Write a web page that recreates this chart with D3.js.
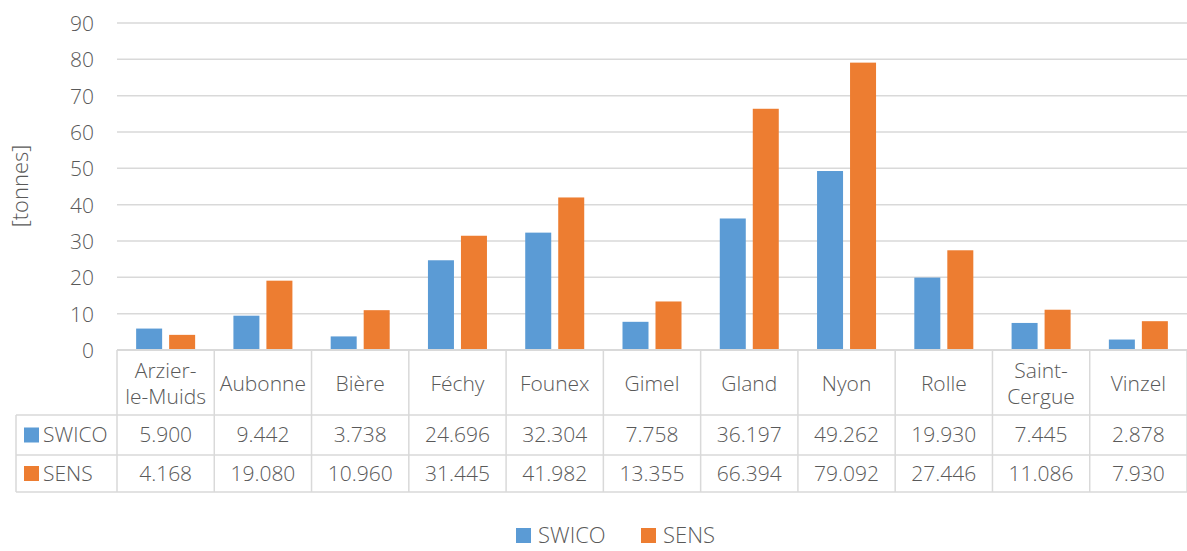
<!DOCTYPE html>
<html><head><meta charset="utf-8">
<script src="https://cdn.jsdelivr.net/npm/d3@7"></script>
<style>
html,body{margin:0;padding:0;background:#fff;}
svg text{font-family:"Open Sans",sans-serif;font-weight:300;fill:#595959;}
</style></head>
<body>
<svg id="chart" width="1187" height="551"></svg>
<script>
const categories = [["Arzier-","le-Muids"],["Aubonne"],["Bière"],["Féchy"],["Founex"],["Gimel"],["Gland"],["Nyon"],["Rolle"],["Saint-","Cergue"],["Vinzel"]];
const seriesNames = ["SWICO","SENS"];
const swico = [5.900,9.442,3.738,24.696,32.304,7.758,36.197,49.262,19.930,7.445,2.878];
const sens = [4.168,19.080,10.960,31.445,41.982,13.355,66.394,79.092,27.446,11.086,7.930];
const swicoLabels = ["5.900","9.442","3.738","24.696","32.304","7.758","36.197","49.262","19.930","7.445","2.878"];
const sensLabels = ["4.168","19.080","10.960","31.445","41.982","13.355","66.394","79.092","27.446","11.086","7.930"];
const yTicks = [0,10,20,30,40,50,60,70,80,90];
const colors = ["#5B9BD5","#ED7D31"];

(function(){
const svg = d3.select("#chart");
const pl = 117, pr = 1187, pt = 23, pb = 350;
const fs = 21;
const grid = "#d9d9d9";

const x = d3.scaleBand().domain(d3.range(categories.length)).range([pl, pr]).paddingInner(0).paddingOuter(0);
const y = d3.scaleLinear().domain([0, 90]).range([pb, pt]);
const bw = x.bandwidth();
const barW = 26, gap = 7;
const x1 = d3.scaleBand().domain([0,1]).range([(bw - 2*barW - gap)/2, (bw + 2*barW + gap)/2]).paddingInner(gap/(barW+gap)).paddingOuter(0);

svg.append("g").selectAll("line").data(yTicks.filter(d=>d>0)).join("line")
  .attr("x1", pl).attr("x2", pr)
  .attr("y1", d=>y(d)).attr("y2", d=>y(d))
  .attr("stroke", grid).attr("stroke-width", 1.5);

const yAxis = d3.axisLeft(y).tickValues(yTicks).tickSize(0).tickPadding(0);
const ya = svg.append("g").attr("transform", `translate(94,0)`).call(yAxis);
ya.select(".domain").remove();
ya.selectAll("text").attr("font-size", fs).attr("font-family", null).attr("fill", null).attr("dy","0.35em");

svg.append("text").attr("transform", `translate(20,186) rotate(-90)`).attr("text-anchor","middle")
  .attr("dy","0.35em").attr("font-size", 22).text("[tonnes]");

const data = [swico, sens];
data.forEach((vals, si) => {
  svg.append("g").selectAll("rect").data(vals).join("rect")
    .attr("x", (d,i)=>x(i)+x1(si))
    .attr("width", x1.bandwidth())
    .attr("y", d=>y(d))
    .attr("height", d=>y(0)-y(d))
    .attr("fill", colors[si]);
});

const rowH = [pb, 415, 455, 492];
const tg = svg.append("g");
const lw = 1.5;
tg.append("line").attr("x1", pl).attr("x2", pr).attr("y1", pb).attr("y2", pb).attr("stroke", grid).attr("stroke-width", 2);
[415,455,492].forEach(yy => {
  tg.append("line").attr("x1", 16).attr("x2", pr).attr("y1", yy).attr("y2", yy).attr("stroke", grid).attr("stroke-width", lw);
});
d3.range(categories.length+1).forEach(i => {
  const xx = i < categories.length ? x(i) : pr;
  tg.append("line").attr("x1", xx).attr("x2", xx).attr("y1", pb).attr("y2", 492).attr("stroke", grid).attr("stroke-width", lw);
});
tg.append("line").attr("x1", 16).attr("x2", 16).attr("y1", 415).attr("y2", 492).attr("stroke", grid).attr("stroke-width", lw);

categories.forEach((lines, i) => {
  const cx = x(i) + bw/2;
  const cy = (pb + 415)/2 + 1.5;
  const lh = 26;
  lines.forEach((t, k) => {
    tg.append("text").attr("x", cx).attr("y", cy + (k - (lines.length-1)/2)*lh)
      .attr("text-anchor","middle").attr("dy","0.35em").attr("font-size", fs).text(t);
  });
});
[swicoLabels, sensLabels].forEach((labs, si) => {
  const cy = (rowH[si+1] + rowH[si+2])/2;
  labs.forEach((t, i) => {
    tg.append("text").attr("x", x(i)+bw/2).attr("y", cy).attr("text-anchor","middle")
      .attr("dy","0.35em").attr("font-size", fs).text(t);
  });
  tg.append("rect").attr("x", 24).attr("y", cy-7.5).attr("width", 15).attr("height", 15).attr("fill", colors[si]);
  tg.append("text").attr("x", 43).attr("y", cy).attr("dy","0.35em").attr("font-size", fs).text(seriesNames[si]);
});

const lg = svg.append("g");
const legX = [516, 641];
const legY = 535.5;
seriesNames.forEach((n, si) => {
  lg.append("rect").attr("x", legX[si]).attr("y", legY-7.5).attr("width", 15).attr("height", 15).attr("fill", colors[si]);
  lg.append("text").attr("x", legX[si]+22).attr("y", legY).attr("dy","0.35em").attr("font-size", 22).text(n);
});
})();
</script>
</body></html>
